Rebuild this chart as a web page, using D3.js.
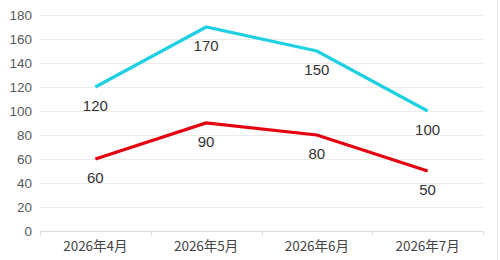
<!DOCTYPE html>
<html>
<head>
<meta charset="utf-8">
<script src="https://cdn.jsdelivr.net/npm/d3@7"></script>
<style>
  html, body { margin: 0; padding: 0; background: #fff; }
  svg { display: block; font-family: "Noto Sans CJK SC", "Noto Sans", sans-serif; }
</style>
</head>
<body>
<div class="js-container"></div>
<script>
  'use strict';

  // Chart data.
  var categories = ['2026年4月', '2026年5月', '2026年6月', '2026年7月'];
  var seriesA = [120, 170, 150, 100];
  var seriesB = [60, 90, 80, 50];
  var yTicks = [0, 20, 40, 60, 80, 100, 120, 140, 160, 180];

  var width = 500;
  var height = 260;
  var margin = {top: 15, right: 17, bottom: 29, left: 40};

  var svg = d3.select('.js-container').append('svg')
              .attr('width', width)
              .attr('height', height);

  var x = d3.scaleBand()
            .domain(categories)
            .range([margin.left, width - margin.right]);

  var y = d3.scaleLinear()
            .domain([0, 180])
            .range([height - margin.bottom, margin.top]);

  // Faint border on the far right, as in the reference.
  svg.append('line')
      .attr('x1', 497.5).attr('x2', 497.5)
      .attr('y1', 0).attr('y2', height)
      .attr('stroke', '#ececec')
      .attr('stroke-width', 1);

  // Horizontal grid lines.
  svg.append('g')
      .selectAll('line')
      .data(yTicks.filter(function(d) { return d > 0; }))
      .join('line')
        .attr('x1', margin.left)
        .attr('x2', width - margin.right)
        .attr('y1', function(d) { return Math.round(y(d)) + 0.5; })
        .attr('y2', function(d) { return Math.round(y(d)) + 0.5; })
        .attr('stroke', '#ebebeb')
        .attr('stroke-width', 1);

  // Y axis labels.
  var yAxis = svg.append('g')
      .attr('transform', 'translate(' + margin.left + ',0)')
      .call(d3.axisLeft(y).tickValues(yTicks).tickSize(0).tickPadding(8));
  yAxis.select('.domain').remove();
  yAxis.selectAll('text')
      .attr('fill', '#5a5a5a')
      .style('font-size', '13.5px')
      .style('font-family', '"Liberation Sans", Arial, sans-serif');

  // X axis with ticks on the band boundaries.
  var baseY = Math.round(y(0)) + 0.5;
  svg.append('line')
      .attr('x1', margin.left).attr('x2', width - margin.right)
      .attr('y1', baseY).attr('y2', baseY)
      .attr('stroke', '#dcdcdc');

  var bounds = categories.map(function(c) { return x(c); });
  bounds.push(width - margin.right);
  svg.append('g')
      .selectAll('line')
      .data(bounds)
      .join('line')
        .attr('x1', function(d) { return Math.round(d) + 0.5; })
        .attr('x2', function(d) { return Math.round(d) + 0.5; })
        .attr('y1', baseY)
        .attr('y2', baseY + 4)
        .attr('stroke', '#dcdcdc');

  svg.append('g')
      .selectAll('text')
      .data(categories)
      .join('text')
        .attr('x', function(d) { return x(d) + x.bandwidth() / 2; })
        .attr('y', baseY + 19)
        .attr('text-anchor', 'middle')
        .attr('fill', '#444')
        .style('font-size', '13.5px')
        .text(function(d) { return d; });

  var line = d3.line()
               .x(function(d, i) { return x(categories[i]) + x.bandwidth() / 2; })
               .y(function(d) { return y(d); });

  function drawSeries(values, color) {
    svg.append('path')
        .datum(values)
        .attr('fill', 'none')
        .attr('stroke', color)
        .attr('stroke-width', 3.2)
        .attr('stroke-linejoin', 'miter')
        .attr('d', line);

    svg.append('g')
        .selectAll('text')
        .data(values)
        .join('text')
          .attr('x', function(d, i) { return x(categories[i]) + x.bandwidth() / 2; })
          .attr('y', function(d) { return y(d) + 24; })
          .attr('text-anchor', 'middle')
          .attr('fill', '#333')
          .style('font-size', '15px')
          .style('font-family', '"Liberation Sans", Arial, sans-serif')
          .text(function(d) { return d; });
  }

  drawSeries(seriesA, '#1fd0e3');
  drawSeries(seriesB, '#e5000f');
</script>
</body>
</html>
